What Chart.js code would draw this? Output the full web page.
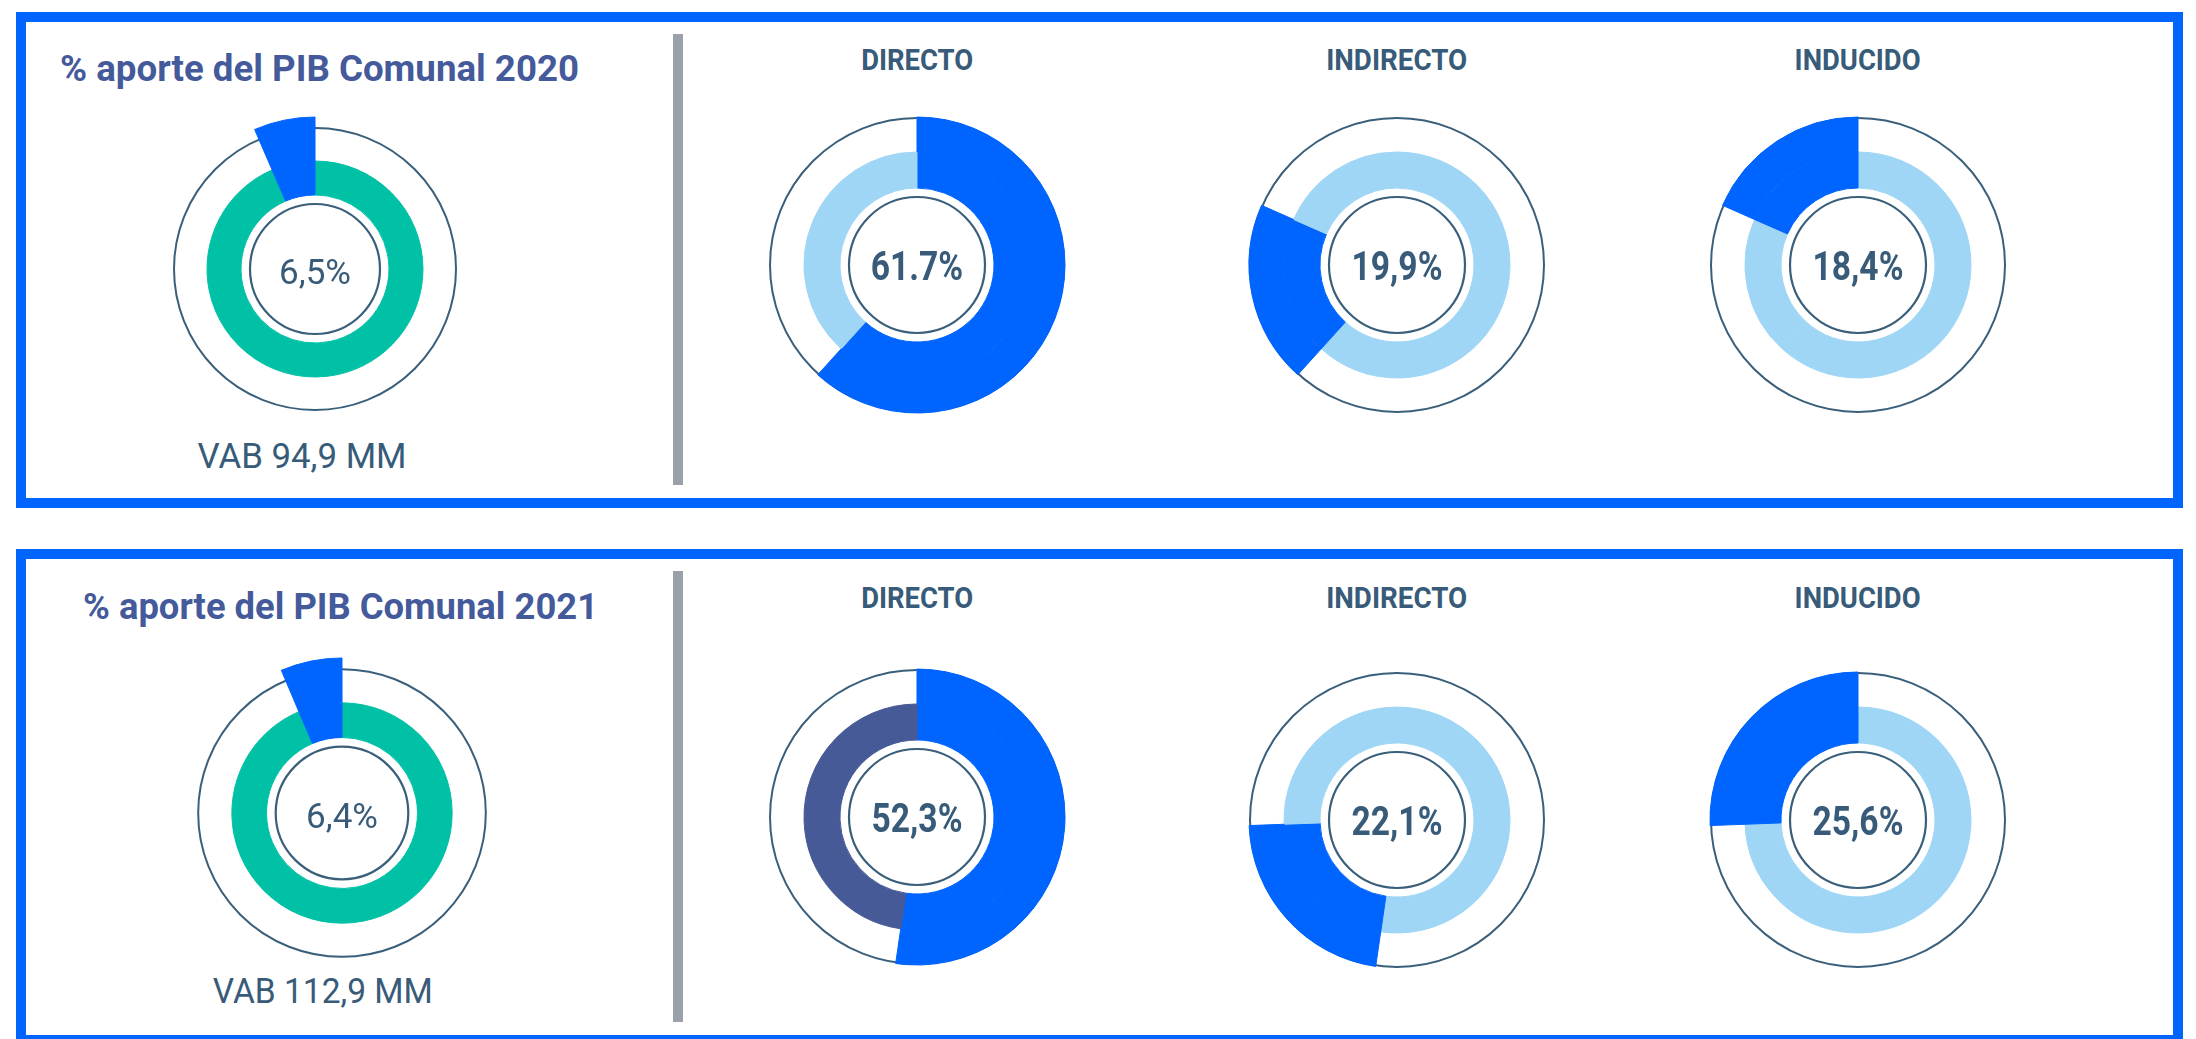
<!DOCTYPE html>
<html lang="es">
<head>
<meta charset="utf-8">
<title>Aporte al PIB Comunal</title>
<script src="https://cdn.jsdelivr.net/npm/chart.js@4.4.1/dist/chart.umd.min.js"></script>
<style>
  body {
    margin: 0;
    width: 2196px;
    height: 1039px;
    overflow: hidden;
    background: #fff;
    position: relative;
    font-family: Roboto, "Noto Sans", sans-serif;
  }
  .panel {
    position: absolute;
    left: 16px;
    width: 2167px;
    height: 496px;
    border: 10px solid #0064ff;
    box-sizing: border-box;
  }
  .divider {
    position: absolute;
    left: 673px;
    width: 10px;
    height: 451px;
    background: #9aa1a8;
  }
  .txt { position: absolute; white-space: nowrap; line-height: 1.2; }
  .title { font-weight: bold; font-size: 36px; color: #445a9b; }
  .head { font-weight: bold; font-size: 29px; color: #375b78; }
  .vab { font-size: 35px; color: #375b78; }
  canvas { position: absolute; }
</style>
</head>
<body>
<div class="panel" style="top:12px"></div>
<div class="panel" style="top:549px"></div>
<div class="divider" style="top:34px"></div>
<div class="divider" style="top:571px"></div>

<script>
// DATA
const years = ["2020", "2021"];
const pibShare = [6.5, 6.4];
const pibLabels = ["6,5%", "6,4%"];
const vabLabels = ["VAB 94,9 MM", "VAB 112,9 MM"];
const impactTypes = ["DIRECTO", "INDIRECTO", "INDUCIDO"];
const impact2020 = [61.7, 19.9, 18.4];
const impact2021 = [52.3, 22.1, 25.6];
const impactLabels2020 = ["61.7%", "19,9%", "18,4%"];
const impactLabels2021 = ["52,3%", "22,1%", "25,6%"];

// COLORS
const BLUE = "#0064ff";
const LIGHT = "#9fd6f5";
const GREEN = "#00c1a5";
const NAVY = "#465a97";
const LINE = "#3a5f7b";
const TEXT = "#375b78";
const CLEAR = "rgba(0,0,0,0)";
const FONT = 'Roboto, "Noto Sans", sans-serif';

// LAYOUT PER PANEL
const rows = [
    {
        year: years[0], titleX: 60, titleY: 81, titleW: 519,
        pib: { x: 315, y: 269, s: 1 }, share: pibShare[0], shareLabel: pibLabels[0],
        vab: vabLabels[0], vabX: 302, vabY: 468, vabW: 209,
        headY: 70, centers: [[917, 265], [1397, 265], [1858, 265]],
        values: impact2020, labels: impactLabels2020,
        rest: [LIGHT, LIGHT, LIGHT]
    },
    {
        year: years[1], titleX: 83, titleY: 619, titleW: 515,
        pib: { x: 342, y: 812.5, s: 1.02 }, share: pibShare[1], shareLabel: pibLabels[1],
        vab: vabLabels[1], vabX: 323, vabY: 1003, vabW: 220,
        headY: 608, centers: [[917, 817], [1397, 820], [1858, 820]],
        values: impact2021, labels: impactLabels2021,
        rest: [NAVY, LIGHT, LIGHT]
    }
];
const headWidths = [112, 141, 126];

// put a text element so its baseline sits on y, squeezed to width w
function placeText(cls, text, x, y, align, w) {
    const el = document.createElement("div");
    el.className = "txt " + cls;
    el.textContent = text;
    document.body.appendChild(el);
    const probe = document.createElement("span");
    probe.style.cssText = "display:inline-block;width:0;height:0;vertical-align:baseline";
    el.appendChild(probe);
    const box = el.getBoundingClientRect();
    const base = probe.getBoundingClientRect().top - box.top;
    el.removeChild(probe);
    el.style.top = (y - base) + "px";
    el.style.left = (align === "center" ? x - box.width / 2 : x) + "px";
    if (w) {
        el.style.transformOrigin = align === "center" ? "50% 0" : "0 0";
        el.style.transform = "scaleX(" + (w / box.width) + ")";
    }
}

// thin guide circles + center value
const ringLines = {
    id: "ringLines",
    beforeDatasetsDraw(chart, args, opts) {
        const arc = chart.getDatasetMeta(0).data[0];
        const ctx = chart.ctx;
        ctx.save();
        ctx.strokeStyle = LINE;
        ctx.lineWidth = 2;
        ctx.beginPath();
        ctx.arc(arc.x, arc.y, opts.outer, 0, Math.PI * 2);
        ctx.stroke();
        ctx.restore();
    },
    afterDatasetsDraw(chart, args, opts) {
        const arc = chart.getDatasetMeta(0).data[0];
        const ctx = chart.ctx;
        ctx.save();
        ctx.strokeStyle = LINE;
        ctx.lineWidth = 2.2;
        ctx.beginPath();
        ctx.arc(arc.x, arc.y, opts.inner, 0, Math.PI * 2);
        ctx.stroke();
        ctx.fillStyle = TEXT;
        ctx.font = opts.font;
        ctx.textAlign = "center";
        ctx.textBaseline = "alphabetic";
        const w = ctx.measureText(opts.text).width * opts.squeeze;
        ctx.fillText(opts.text, arc.x, arc.y + opts.dy, w);
        ctx.restore();
    }
};

function makeDonut(x, y, config) {
    const size = 340;
    const c = document.createElement("canvas");
    c.width = size;
    c.height = size;
    c.style.left = (x - size / 2) + "px";
    c.style.top = (y - size / 2) + "px";
    document.body.appendChild(c);
    config.plugins = [ringLines];
    return new Chart(c.getContext("2d"), config);
}

const baseOptions = {
    responsive: false,
    animation: false,
    events: [],
    layout: { padding: 0 }
};

rows.forEach(row => {
    placeText("title", "% aporte del PIB Comunal " + row.year, row.titleX, row.titleY, "left", row.titleW);
    placeText("vab", row.vab, row.vabX, row.vabY, "center", row.vabW);

    // PIB share: full green ring with the share sticking out in blue
    const s = row.pib.s;
    const shareData = [100 - row.share, row.share];
    makeDonut(row.pib.x, row.pib.y, {
        type: "doughnut",
        data: {
            labels: ["Resto", "Aporte"],
            datasets: [
                {
                    data: shareData,
                    backgroundColor: [CLEAR, BLUE],
                    borderColor: [CLEAR, BLUE],
                    borderWidth: 1,
                    weight: 44
                },
                {
                    data: shareData,
                    backgroundColor: [GREEN, BLUE],
                    borderColor: [GREEN, BLUE],
                    borderWidth: 1,
                    weight: 34
                }
            ]
        },
        options: {
            ...baseOptions,
            radius: 152 * s,
            cutout: (74 / 152 * 100) + "%",
            plugins: {
                legend: { display: false },
                tooltip: { enabled: false },
                ringLines: {
                    outer: 141 * s, inner: 65 * s,
                    text: row.shareLabel, font: "35px " + FONT, dy: 15, squeeze: 1.05
                }
            }
        }
    });

    // DIRECTO / INDIRECTO / INDUCIDO, one highlighted slice each
    impactTypes.forEach((name, hi) => {
        const [cx, cy] = row.centers[hi];
        placeText("head", name, cx, row.headY, "center", headWidths[hi]);
        const inner = row.values.map((v, i) => i === hi ? BLUE : row.rest[hi]);
        const outer = row.values.map((v, i) => i === hi ? BLUE : CLEAR);
        makeDonut(cx, cy, {
            type: "doughnut",
            data: {
                labels: impactTypes,
                datasets: [
                    {
                        data: row.values,
                        backgroundColor: outer,
                        borderColor: outer,
                        borderWidth: 1,
                        weight: 35
                    },
                    {
                        data: row.values,
                        backgroundColor: inner,
                        borderColor: inner,
                        borderWidth: 1,
                        weight: 36
                    }
                ]
            },
            options: {
                ...baseOptions,
                radius: 148,
                cutout: (77 / 148 * 100) + "%",
                plugins: {
                    legend: { display: false },
                    tooltip: { enabled: false },
                    ringLines: {
                        outer: 147, inner: 68,
                        text: row.labels[hi], font: "bold 40px " + FONT, dy: 15, squeeze: 0.84
                    }
                }
            }
        });
    });
});
</script>
</body>
</html>
